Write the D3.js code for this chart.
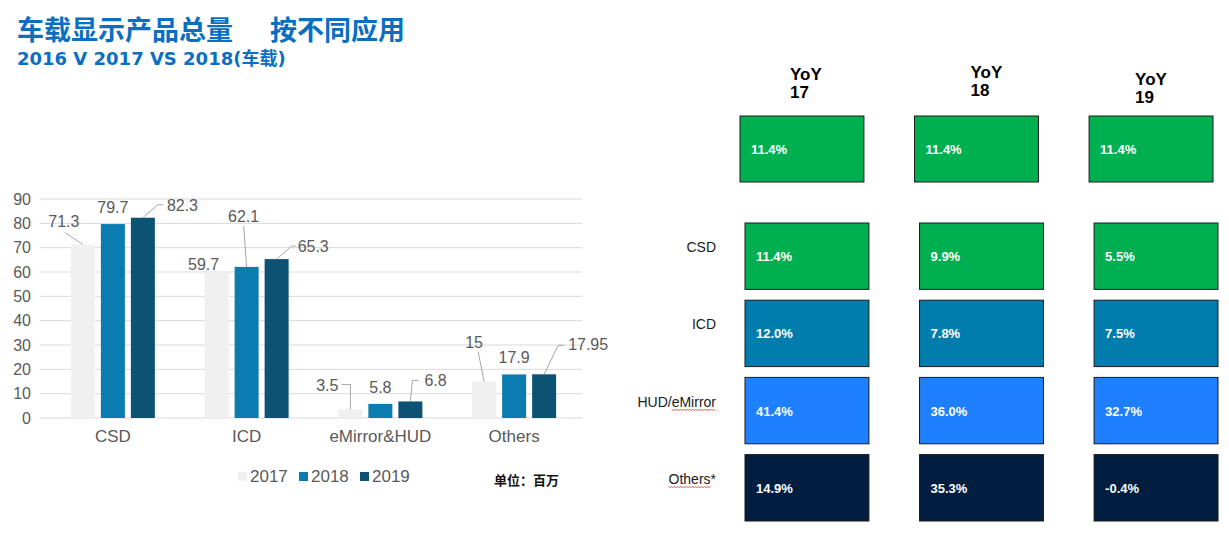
<!DOCTYPE html>
<html>
<head>
<meta charset="utf-8">
<script src="https://cdn.jsdelivr.net/npm/d3@7"></script>
<style>
  body { margin: 0; background: #fff; }
  svg { display: block; }
</style>
</head>
<body>
<div id="chart"></div>
<script>
// Bar chart data
const categories = ['CSD', 'ICD', 'eMirror&HUD', 'Others'];
const years = ['2017', '2018', '2019'];
const values2017 = [71.3, 59.7, 3.5, 15];
const values2018 = [79.7, 62.1, 5.8, 17.9];
const values2019 = [82.3, 65.3, 6.8, 17.95];
const yTicks = [0, 10, 20, 30, 40, 50, 60, 70, 80, 90];

// YoY table data
const yoyColumns = ['17', '18', '19'];
const yoyTotal = [11.4, 11.4, 11.4];
const yoyRows = ['CSD', 'ICD', 'HUD/eMirror', 'Others*'];
const yoyCSD = [11.4, 9.9, 5.5];
const yoyICD = [12.0, 7.8, 7.5];
const yoyHUD = [41.4, 36.0, 32.7];
const yoyOthers = [14.9, 35.3, -0.4];

const width = 1229, height = 534;
const svg = d3.select('#chart')
    .append('svg')
    .attr('width', width)
    .attr('height', height);

const blue = '#0a6fc0';
const grey = '#595959';
const latin = '"Liberation Sans", Arial, sans-serif';
const cjk = '"Noto Sans CJK SC", sans-serif';

// Title
svg.append('text')
    .attr('x', 17).attr('y', 40)
    .attr('font-family', cjk).attr('font-weight', 'bold').attr('font-size', 27)
    .attr('fill', blue)
    .text('车载显示产品总量');
svg.append('text')
    .attr('x', 270).attr('y', 40)
    .attr('font-family', cjk).attr('font-weight', 'bold').attr('font-size', 27)
    .attr('fill', blue)
    .text('按不同应用');
svg.append('text')
    .attr('x', 17).attr('y', 65)
    .attr('font-family', '"DejaVu Sans", ' + cjk).attr('font-weight', 'bold').attr('font-size', 18)
    .attr('fill', blue)
    .text('2016 V 2017 VS 2018(车载)');

// ---------- grouped bar chart ----------
const series = [values2017, values2018, values2019];
const colors = ['#f0f0f0', '#0a7cb0', '#0c5373'];

const x0 = d3.scaleBand()
    .domain(categories)
    .range([46, 581]);
const x1 = d3.scaleBand()
    .domain(years)
    .range([x0.bandwidth() / 2 - 42, x0.bandwidth() / 2 + 42])
    .paddingInner(0.2);
const y = d3.scaleLinear()
    .domain([0, 90])
    .range([418, 199]);

// gridlines
svg.append('g')
    .selectAll('line')
    .data(yTicks)
    .enter()
    .append('line')
    .attr('x1', 40).attr('x2', 582)
    .attr('y1', d => y(d)).attr('y2', d => y(d))
    .attr('stroke', '#d9d9d9')
    .attr('stroke-width', 1);

// y axis labels
const yAxis = svg.append('g')
    .attr('transform', 'translate(38,0)')
    .call(d3.axisLeft(y).tickValues(yTicks).tickSize(0).tickPadding(7));
yAxis.select('.domain').remove();
yAxis.selectAll('text')
    .attr('font-family', latin).attr('font-size', 16).attr('fill', grey);

// x axis labels
const xAxis = svg.append('g')
    .attr('transform', 'translate(0,418)')
    .call(d3.axisBottom(x0).tickSize(0).tickPadding(12));
xAxis.select('.domain').remove();
xAxis.selectAll('text')
    .attr('font-family', latin).attr('font-size', 17).attr('fill', grey);

// bars
const rows = [];
categories.forEach((c, i) => {
    years.forEach((yr, j) => {
        rows.push({cat: c, year: yr, value: series[j][i], ci: i, yi: j});
    });
});

svg.append('g')
    .selectAll('rect')
    .data(rows)
    .enter()
    .append('rect')
    .attr('x', d => x0(d.cat) + x1(d.year))
    .attr('y', d => y(d.value))
    .attr('width', x1.bandwidth())
    .attr('height', d => y(0) - y(d.value))
    .attr('fill', d => colors[d.yi]);

// data label placement, relative to the top centre of each bar
// [dx, dy (baseline), anchor, leader points]
const labelLayout = [
    [[-19, -18, 'middle', [[0, 0], [-18, -12]]], [0, -11, 'middle', null], [24, -7, 'start', [[0, 0], [15, -13], [20, -13]]]],
    [[-13, -3, 'middle', null], [-3, -45, 'middle', [[0, 0], [-3, -41]]], [21, -7, 'start', [[0, 0], [15, -13], [19, -13]]]],
    [[-12, -18, 'end', [[0, 0], [0, -25], [-9, -25]]], [0, -11, 'middle', null], [14, -15, 'start', [[0, 0], [2, -21], [8, -21]]]],
    [[-10, -34, 'middle', [[0, 0], [-6, -30]]], [0, -11, 'middle', null], [24, -24, 'start', [[0, 0], [14, -29], [20, -29]]]]
];

const labels = svg.append('g');
rows.forEach(d => {
    const cx = x0(d.cat) + x1(d.year) + x1.bandwidth() / 2;
    const cy = y(d.value);
    const lay = labelLayout[d.ci][d.yi];
    if (lay[3]) {
        labels.append('path')
            .attr('d', d3.line()(lay[3].map(p => [cx + p[0], cy + p[1]])))
            .attr('fill', 'none')
            .attr('stroke', '#a6a6a6')
            .attr('stroke-width', 1);
    }
    labels.append('text')
        .attr('x', cx + lay[0])
        .attr('y', cy + lay[1])
        .attr('text-anchor', lay[2])
        .attr('font-family', latin).attr('font-size', 16).attr('fill', grey)
        .text(d.value);
});

// legend
const legend = svg.append('g')
    .selectAll('g')
    .data(years)
    .enter()
    .append('g')
    .attr('transform', (d, i) => `translate(${238 + i * 61},472)`);
legend.append('rect')
    .attr('width', 9).attr('height', 9)
    .attr('fill', (d, i) => colors[i]);
legend.append('text')
    .attr('x', 12).attr('y', 10)
    .attr('font-family', latin).attr('font-size', 17).attr('fill', grey)
    .text(d => d);

svg.append('text')
    .attr('x', 494).attr('y', 485)
    .attr('font-family', cjk).attr('font-weight', 'bold').attr('font-size', 13)
    .attr('fill', '#111')
    .text('单位：百万');

// ---------- YoY table ----------
const yoyValues = [yoyCSD, yoyICD, yoyHUD, yoyOthers];
const rowColors = ['#00b050', '#007dac', '#1f80ff', '#011e41'];
const fmt = v => v.toFixed(1) + '%';

const colX = d3.scaleBand()
    .domain(yoyColumns)
    .range([745, 1218])
    .paddingInner(0.29);
const rowY = d3.scaleBand()
    .domain(yoyRows)
    .range([223, 521])
    .paddingInner(0.14);

// column headers
const headerLayout = [[45, 80], [51, 78], [41, 85]];
yoyColumns.forEach((c, i) => {
    const t = svg.append('text')
        .attr('font-family', latin).attr('font-weight', 'bold').attr('font-size', 17)
        .attr('fill', '#000');
    t.append('tspan')
        .attr('x', colX(c) + headerLayout[i][0]).attr('y', headerLayout[i][1])
        .text('YoY');
    t.append('tspan')
        .attr('x', colX(c) + headerLayout[i][0]).attr('y', headerLayout[i][1] + 18)
        .text(c);
});

// total row
const totalCells = svg.append('g')
    .selectAll('g')
    .data(yoyColumns)
    .enter()
    .append('g')
    .attr('transform', d => `translate(${colX(d) - 5},116)`);
totalCells.append('rect')
    .attr('width', colX.bandwidth()).attr('height', 66)
    .attr('fill', '#00b050')
    .attr('stroke', '#1a1a1a').attr('stroke-width', 1);
totalCells.append('text')
    .attr('x', 11).attr('y', 38)
    .attr('font-family', latin).attr('font-weight', 'bold').attr('font-size', 13)
    .attr('fill', '#fff')
    .text((d, i) => fmt(yoyTotal[i]));

// application rows
const cells = [];
yoyRows.forEach((r, ri) => {
    yoyColumns.forEach((c, ci) => cells.push({row: r, col: c, ri, value: yoyValues[ri][ci]}));
});
const cell = svg.append('g')
    .selectAll('g')
    .data(cells)
    .enter()
    .append('g')
    .attr('transform', d => `translate(${colX(d.col)},${rowY(d.row)})`);
cell.append('rect')
    .attr('width', colX.bandwidth()).attr('height', rowY.bandwidth())
    .attr('fill', d => rowColors[d.ri])
    .attr('stroke', '#1a1a1a').attr('stroke-width', 1);
cell.append('text')
    .attr('x', 11).attr('y', rowY.bandwidth() / 2 + 5)
    .attr('font-family', latin).attr('font-weight', 'bold').attr('font-size', 13)
    .attr('fill', '#fff')
    .text(d => fmt(d.value));

// row labels
const spellMarks = {'HUD/eMirror': [4, 7], 'Others*': [0, 6]};
yoyRows.forEach(r => {
    const t = svg.append('text')
        .attr('x', 716).attr('y', rowY(r) + rowY.bandwidth() / 2 - 4)
        .attr('text-anchor', 'end')
        .attr('font-family', latin).attr('font-size', 14)
        .attr('fill', '#1a1a1a')
        .text(r);
    if (spellMarks[r]) {
        const node = t.node();
        const full = node.getComputedTextLength();
        const start = 716 - full + node.getSubStringLength(0, spellMarks[r][0]);
        const len = node.getSubStringLength(spellMarks[r][0], spellMarks[r][1]);
        const yy = rowY(r) + rowY.bandwidth() / 2 - 1;
        const pts = [];
        for (let k = 0; k * 1.5 <= len; k++) pts.push([start + k * 1.5, yy + (k % 2 ? 1 : -0.5)]);
        svg.append('path')
            .attr('d', d3.line()(pts))
            .attr('fill', 'none')
            .attr('stroke', '#e0302a')
            .attr('stroke-width', 0.8);
    }
});
</script>
</body>
</html>
